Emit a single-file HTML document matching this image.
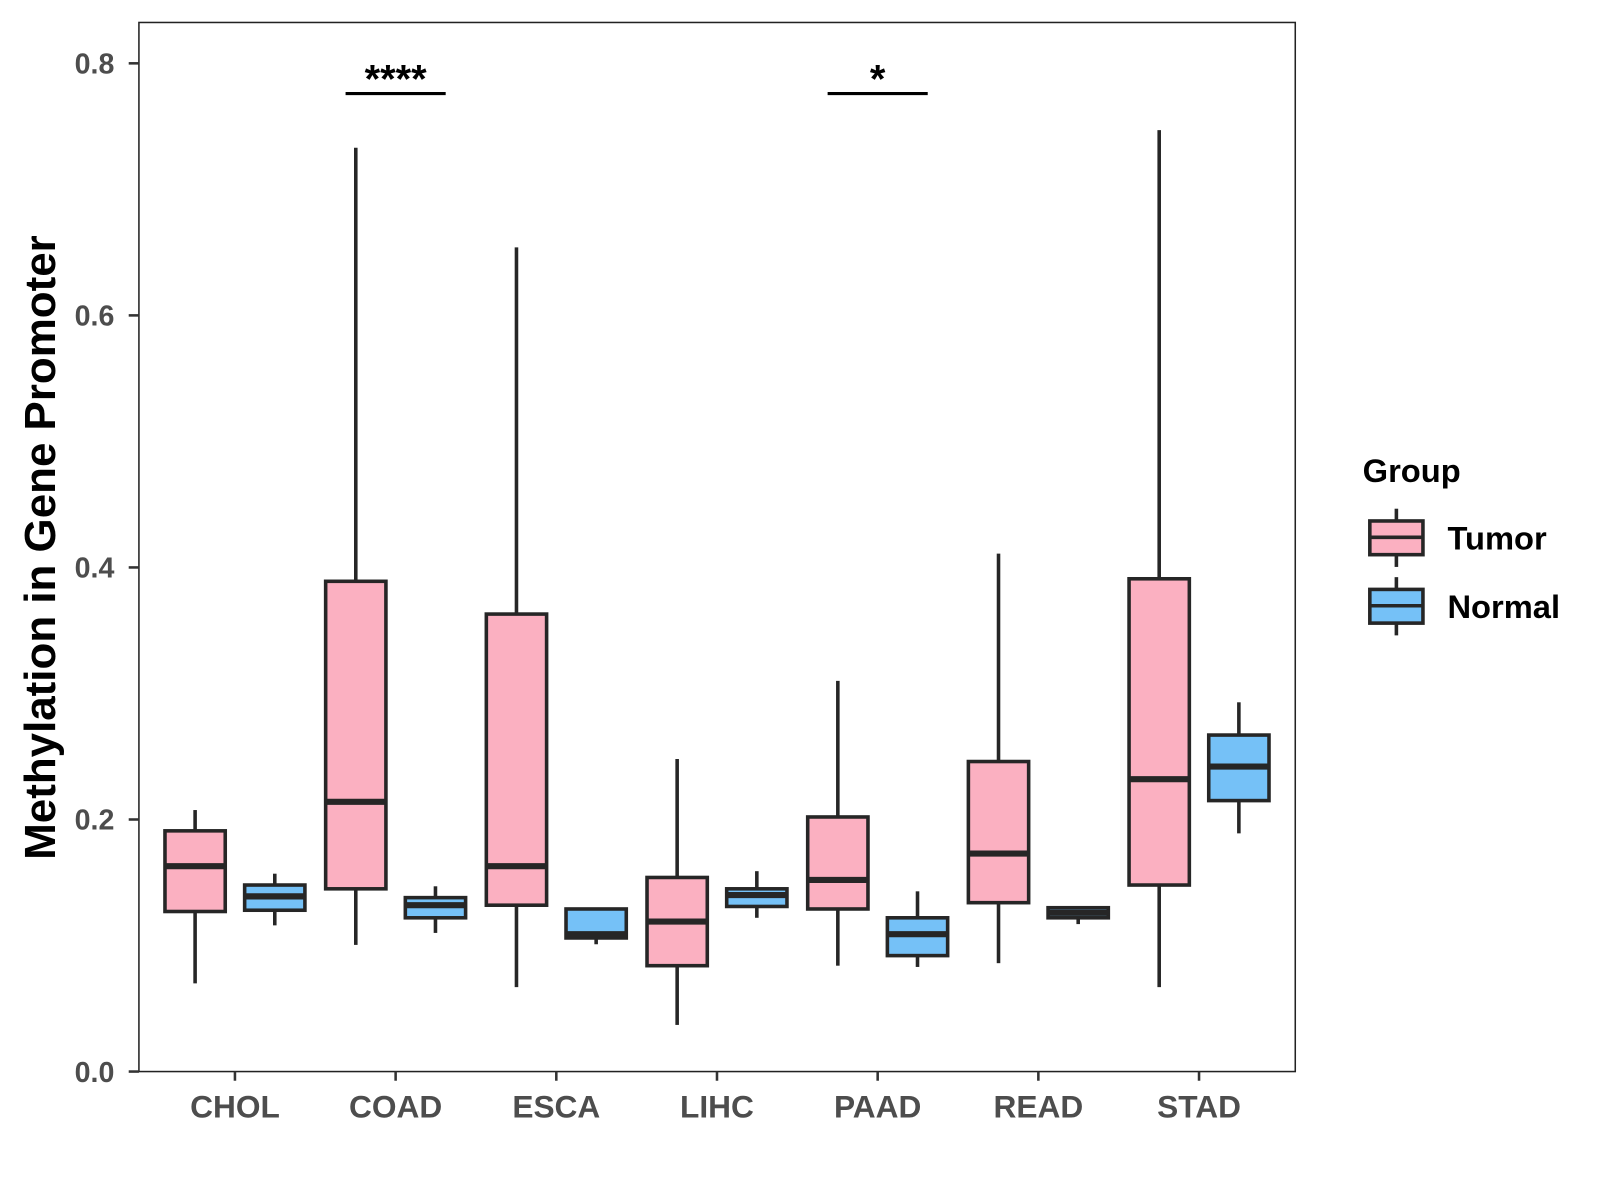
<!DOCTYPE html>
<html><head><meta charset="utf-8"><style>
html,body{margin:0;padding:0;background:#fff;width:1600px;height:1200px;overflow:hidden}
svg text{font-family:"Liberation Sans",sans-serif;font-weight:bold}
</style></head><body>
<svg id="chart" width="1600" height="1200" viewBox="0 0 1600 1200">
<g transform="scale(1.0215)">
<rect x="136" y="22" width="1132" height="1027" fill="#fff" stroke="#222" stroke-width="1.5"/>
<text transform="translate(54,536) rotate(-90)" text-anchor="middle" font-size="43" fill="#000">Methylation in Gene Promoter</text>
<g>
<text x="1334" y="472" font-size="32" fill="#000">Group</text>
<g>
<line x1="1367" y1="498" x2="1367" y2="555" stroke="#262626" stroke-width="3.5"/>
<rect x="1341" y="510" width="52" height="33" fill="#FBB0C1" stroke="#262626" stroke-width="3.5"/>
<line x1="1341" y1="526" x2="1393" y2="526" stroke="#262626" stroke-width="3.5"/>
<text x="1417" y="538" font-size="32" fill="#000">Tumor</text></g>
<g>
<line x1="1367" y1="565" x2="1367" y2="622" stroke="#262626" stroke-width="3.5"/>
<rect x="1341" y="577" width="52" height="33" fill="#75C1F7" stroke="#262626" stroke-width="3.5"/>
<line x1="1341" y1="593" x2="1393" y2="593" stroke="#262626" stroke-width="3.5"/>
<text x="1417" y="605" font-size="32" fill="#000">Normal</text></g>
</g>
<g id="axes"></g><g id="boxes"></g><g id="sig"></g>
</g>
</svg>
<script>
const categories=["CHOL","COAD","ESCA","LIHC","PAAD","READ","STAD"];
const yTicks=[0,0.2,0.4,0.6,0.8];
const yTickLabels=["0.0","0.2","0.4","0.6","0.8"];
// [low, q1, median, q3, high]
const tumorStats=[[0.070,0.127,0.163,0.191,0.2075],[0.1005,0.145,0.214,0.389,0.733],[0.067,0.132,0.163,0.363,0.654],[0.037,0.084,0.119,0.154,0.248],[0.084,0.129,0.152,0.202,0.310],[0.086,0.134,0.173,0.246,0.411],[0.067,0.148,0.232,0.391,0.747]];
const normalStats=[[0.116,0.128,0.139,0.148,0.157],[0.110,0.122,0.132,0.138,0.147],[0.101,0.106,0.109,0.129,0.129],[0.122,0.131,0.140,0.145,0.159],[0.083,0.092,0.109,0.122,0.143],[0.117,0.122,0.126,0.130,0.131],[0.189,0.215,0.242,0.267,0.293]];
const sigCats=["COAD","PAAD"];
const sigLabels=["****","*"];
const sigY=[0.776,0.776];

const NS="http://www.w3.org/2000/svg";
const y=v=>1049-v*1233.75;
const x=i=>230+i*157.3;
function mk(tag,at,par){const e=document.createElementNS(NS,tag);for(const k in at)e.setAttribute(k,at[k]);par.appendChild(e);return e;}
const axes=document.getElementById('axes'),boxes=document.getElementById('boxes'),sig=document.getElementById('sig');
yTicks.forEach((t,i)=>{
 const l=mk('line',{x1:126,x2:136,y1:y(t),y2:y(t),stroke:'#333','stroke-width':2.5},axes);
 
 
 const tx=mk('text',{x:112,y:y(t)+10,'text-anchor':'end','font-size':28,fill:'#4d4d4d'},axes);
 tx.textContent=yTickLabels[i];
 
 
});
categories.forEach((c,i)=>{
 const l=mk('line',{x1:x(i),x2:x(i),y1:1049,y2:1058,stroke:'#333','stroke-width':2.5},axes);
 
 
 const tx=mk('text',{x:x(i),y:1094,'text-anchor':'middle','font-size':31,fill:'#4d4d4d'},axes);
 tx.textContent=c;
 
 
});
function drawBox(s,cx,fill,name){
 const g=mk('g',{},boxes);
 
 
 const hw=29.5,st='#262626';
 mk('line',{x1:cx,x2:cx,y1:y(s[4]),y2:y(s[3]),stroke:st,'stroke-width':3.5},g);
 mk('line',{x1:cx,x2:cx,y1:y(s[1]),y2:y(s[0]),stroke:st,'stroke-width':3.5},g);
 mk('rect',{x:cx-hw,y:y(s[3]),width:2*hw,height:Math.max(0.5,y(s[1])-y(s[3])),fill:fill,stroke:st,'stroke-width':3.5},g);
 mk('line',{x1:cx-hw,x2:cx+hw,y1:y(s[2]),y2:y(s[2]),stroke:st,'stroke-width':6},g);
}
categories.forEach((c,i)=>{
 drawBox(tumorStats[i],x(i)-39,'#FBB0C1','box-tumor-'+c.toLowerCase());
 drawBox(normalStats[i],x(i)+39,'#75C1F7','box-normal-'+c.toLowerCase());
});
sigCats.forEach((c,k)=>{
 const i=categories.indexOf(c);
 const l=mk('line',{x1:x(i)-49,x2:x(i)+49,y1:y(sigY[k]),y2:y(sigY[k]),stroke:'#000','stroke-width':3},sig);
 
 
 const t=mk('text',{x:x(i),y:y(sigY[k])-1,'text-anchor':'middle','font-size':39,fill:'#000'},sig);
 t.textContent=sigLabels[k];
 
 
});
</script>
</body></html>
